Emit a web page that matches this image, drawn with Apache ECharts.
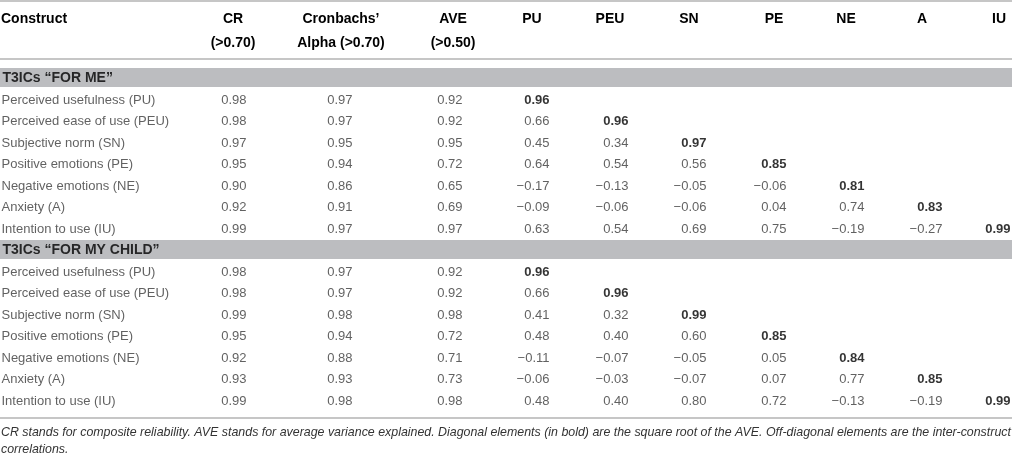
<!DOCTYPE html>
<html>
<head>
<meta charset="utf-8">
<script src="https://cdn.jsdelivr.net/npm/echarts@6/dist/echarts.min.js"></script>
<style>
  html, body { margin: 0; padding: 0; background: #fff; }
  #main { width: 1012px; height: 456px; }
</style>
</head>
<body>
<div id="main"></div>
<script>
'use strict';

// ---- table data ----
const constructs = ['Perceived usefulness (PU)', 'Perceived ease of use (PEU)', 'Subjective norm (SN)',
    'Positive emotions (PE)', 'Negative emotions (NE)', 'Anxiety (A)', 'Intention to use (IU)'];
const abbreviations = ['PU', 'PEU', 'SN', 'PE', 'NE', 'A', 'IU'];
const groupTitles = ['T3ICs \u201cFOR ME\u201d', 'T3ICs \u201cFOR MY CHILD\u201d'];
const measureHeaders = [['CR', '(>0.70)'], ['Cronbachs\u2019', 'Alpha (>0.70)'], ['AVE', '(>0.50)']];

const crMe    = [0.98, 0.98, 0.97, 0.95, 0.90, 0.92, 0.99];
const alphaMe = [0.97, 0.97, 0.95, 0.94, 0.86, 0.91, 0.97];
const aveMe   = [0.92, 0.92, 0.95, 0.72, 0.65, 0.69, 0.97];
const corrMe  = [
    [0.96],
    [0.66, 0.96],
    [0.45, 0.34, 0.97],
    [0.64, 0.54, 0.56, 0.85],
    [-0.17, -0.13, -0.05, -0.06, 0.81],
    [-0.09, -0.06, -0.06, 0.04, 0.74, 0.83],
    [0.63, 0.54, 0.69, 0.75, -0.19, -0.27, 0.99]
];

const crChild    = [0.98, 0.98, 0.99, 0.95, 0.92, 0.93, 0.99];
const alphaChild = [0.97, 0.97, 0.98, 0.94, 0.88, 0.93, 0.98];
const aveChild   = [0.92, 0.92, 0.98, 0.72, 0.71, 0.73, 0.98];
const corrChild  = [
    [0.96],
    [0.66, 0.96],
    [0.41, 0.32, 0.99],
    [0.48, 0.40, 0.60, 0.85],
    [-0.11, -0.07, -0.05, 0.05, 0.84],
    [-0.06, -0.03, -0.07, 0.07, 0.77, 0.85],
    [0.48, 0.40, 0.80, 0.72, -0.13, -0.19, 0.99]
];

const footnote = [
    'CR stands for composite reliability. AVE stands for average variance explained. Diagonal elements (in bold) are the square root of the AVE. Off-diagonal elements are the inter-construct',
    'correlations.'
];

// ---- layout ----
const W = 1012;
const FONT = '"Liberation Sans", Arial, Helvetica, sans-serif';
const colRight = [247, 353, 463, 550, 629, 707, 787, 865, 943, 1011];
const headCenter = [233, 341, 453, 532, 610, 689, 774, 846, 922, 999];
const rowH = 21.5;
const bodyTop = 66.75;
const lineColor = '#c6c6c6';
const bandColor = '#bcbdc0';
const textColor = '#3a3a3a';

const fmt = v => v.toFixed(2).replace('-', '\u2212');

const rowKeys = [];
const labelCells = [];
const groupCells = [];
const valueCells = [];
const diagCells = [];
const bandRows = [];

function addGroup(title, cr, alpha, ave, corr) {
    const gRow = rowKeys.length;
    rowKeys.push('g' + gRow);
    bandRows.push([0, gRow]);
    groupCells.push([2, gRow, title]);
    constructs.forEach((name, i) => {
        const r = rowKeys.length;
        rowKeys.push('r' + r);
        labelCells.push([1, r, name]);
        [cr[i], alpha[i], ave[i]].forEach((v, k) => valueCells.push([colRight[k], r, fmt(v)]));
        corr[i].forEach((v, j) => {
            const cell = [colRight[3 + j], r, fmt(v)];
            (j === i ? diagCells : valueCells).push(cell);
        });
    });
}
addGroup(groupTitles[0], crMe, alphaMe, aveMe, corrMe);
addGroup(groupTitles[1], crChild, alphaChild, aveChild, corrChild);

function textSeries(data, position, bold, color, size) {
    return {
        type: 'scatter',
        silent: true,
        symbolSize: 1,
        itemStyle: { color: 'rgba(0,0,0,0)' },
        data: data,
        label: {
            show: true,
            position: position,
            distance: 0,
            offset: [0, 1],
            formatter: p => p.data[2],
            color: color,
            fontSize: size,
            fontWeight: bold ? 'bold' : 'normal',
            fontFamily: FONT
        }
    };
}

// header + rules + footnote
const graphics = [];
[1, 59, 418].forEach(y => graphics.push({
    type: 'line', silent: true,
    shape: { x1: 0, y1: y, x2: W, y2: y },
    style: { stroke: lineColor, lineWidth: 2 }
}));
function headText(text, x, y, align) {
    graphics.push({
        type: 'text', silent: true,
        style: {
            text: text, x: x, y: y, align: align, verticalAlign: 'middle',
            fill: '#000', fontSize: 14, fontWeight: 'bold', fontFamily: FONT
        }
    });
}
headText('Construct', 1, 19, 'left');
measureHeaders.forEach((h, k) => {
    headText(h[0], headCenter[k], 19, 'center');
    headText(h[1], headCenter[k], 43, 'center');
});
abbreviations.forEach((a, j) => headText(a, headCenter[3 + j], 19, 'center'));
footnote.forEach((line, i) => graphics.push({
    type: 'text', silent: true,
    style: {
        text: line, x: 1, y: 433 + i * 17, align: 'left', verticalAlign: 'middle',
        fill: '#333', fontSize: 12.4, fontStyle: 'italic', fontFamily: FONT
    }
}));

const chart = echarts.init(document.getElementById('main'), null, { renderer: 'canvas' });
chart.setOption({
    animation: false,
    backgroundColor: '#fff',
    grid: { left: 0, right: 0, top: bodyTop, height: rowH * 16 },
    xAxis: { type: 'value', min: 0, max: W, show: false },
    yAxis: { type: 'category', data: rowKeys, inverse: true, show: false },
    series: [
        {
            type: 'custom',
            silent: true,
            data: bandRows,
            renderItem: (params, api) => {
                const c = api.coord([0, api.value(1)]);
                return {
                    type: 'rect',
                    shape: { x: 0, y: c[1] - 9.5, width: W, height: 19 },
                    style: { fill: bandColor }
                };
            }
        },
        textSeries(labelCells, 'right', false, textColor, 13),
        textSeries(groupCells, 'right', true, '#000', 14),
        textSeries(valueCells, 'left', false, textColor, 13),
        textSeries(diagCells, 'left', true, '#000', 13)
    ],
    graphic: graphics
});
</script>
</body>
</html>
